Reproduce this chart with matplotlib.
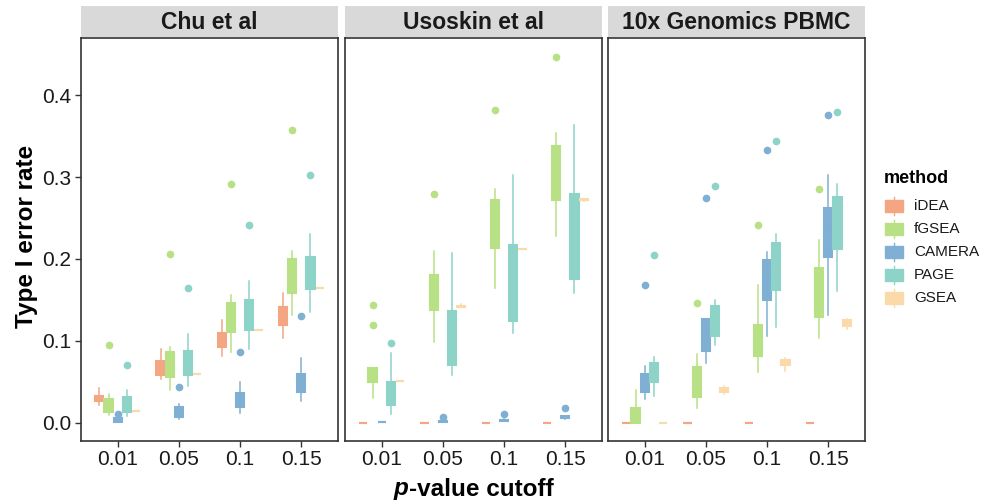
import matplotlib
matplotlib.use("Agg")
import matplotlib.pyplot as plt
from matplotlib.patches import Rectangle
from matplotlib.lines import Line2D

plt.rcParams['font.family'] = ['Liberation Sans', 'DejaVu Sans']

cutoffs = ['0.01', '0.05', '0.1', '0.15']
methods = ['iDEA', 'fGSEA', 'CAMERA', 'PAGE', 'GSEA']
colors = ['#F4A582', '#B8E186', '#7FB0D4', '#8DD3C7', '#F9DAA8']
datasets = ['Chu et al', 'Usoskin et al', '10x Genomics PBMC']

# each entry: (whisker low, q1, median, q3, whisker high) per cutoff
chu_idea = [[.021, .026, .029, .033, .042], [.053, .058, .066, .075, .090],
            [.081, .092, .100, .110, .126], [.104, .119, .128, .141, .158]]
chu_idea_out = [[], [], [], []]
chu_fgsea = [[.009, .013, .020, .029, .035], [.040, .056, .072, .086, .093],
             [.086, .111, .128, .146, .156], [.132, .159, .180, .200, .210]]
chu_fgsea_out = [[.095], [.206], [.292], [.358]]
chu_camera = [[.001, .001, .003, .006, .006], [.004, .007, .012, .019, .023],
              [.012, .019, .027, .036, .050], [.027, .037, .048, .060, .079]]
chu_camera_out = [[.011], [.044], [.086], [.130]]
chu_page = [[.008, .013, .022, .031, .040], [.045, .058, .073, .088, .108],
            [.090, .113, .130, .150, .173], [.135, .163, .182, .202, .231]]
chu_page_out = [[.070], [.165], [.241], [.302]]
chu_gsea = [[.014] * 5, [.060] * 5, [.113] * 5, [.165] * 5]
chu_gsea_out = [[], [], [], []]

uso_idea = [[0.0] * 5, [0.0] * 5, [0.0] * 5, [0.0] * 5]
uso_idea_out = [[], [], [], []]
uso_fgsea = [[.030, .050, .058, .067, .067], [.099, .138, .160, .181, .210],
             [.164, .213, .245, .272, .286], [.228, .272, .305, .338, .354]]
uso_fgsea_out = [[.119, .144], [.279], [.382], [.447]]
uso_camera = [[.0005] * 5, [.001, .001, .0015, .002, .002],
              [.002, .002, .003, .0035, .004], [.004, .006, .007, .008, .008]]
uso_camera_out = [[], [.0065], [.011], [.018]]
uso_page = [[.011, .022, .035, .050, .0855], [.058, .071, .100, .137, .207],
            [.109, .124, .170, .217, .303], [.158, .176, .230, .280, .364]]
uso_page_out = [[.097], [], [], []]
uso_gsea = [[.0515] * 5, [.141, .141, .142, .143, .145],
            [.2124] * 5, [.271, .272, .272, .273, .273]]
uso_gsea_out = [[], [], [], []]

pbmc_idea = [[0.0] * 5, [0.0] * 5, [0.0] * 5, [0.0] * 5]
pbmc_idea_out = [[], [], [], []]
pbmc_fgsea = [[0.0, 0.0, .005, .018, .040], [.018, .031, .050, .0685, .084],
              [.062, .082, .100, .119, .168], [.103, .129, .160, .189, .223]]
pbmc_fgsea_out = [[], [.146], [.2415], [.285]]
pbmc_camera = [[.029, .037, .050, .060, .069], [.073, .087, .110, .127, .127],
               [.106, .150, .180, .199, .208], [.131, .203, .240, .262, .303]]
pbmc_camera_out = [[.168], [.274], [.333], [.3765]]
pbmc_page = [[.033, .050, .062, .0726, .080], [.095, .106, .125, .142, .1495],
             [.117, .1625, .190, .2197, .230], [.161, .2124, .245, .276, .292]]
pbmc_page_out = [[.2046], [.289], [.3437], [.380]]
pbmc_gsea = [[0.0] * 5, [.035, .038, .040, .042, .045],
             [.0636, .070, .073, .076, .0786], [.114, .118, .121, .125, .127]]
pbmc_gsea_out = [[], [], [], []]

panel_stats = [
    [chu_idea, chu_fgsea, chu_camera, chu_page, chu_gsea],
    [uso_idea, uso_fgsea, uso_camera, uso_page, uso_gsea],
    [pbmc_idea, pbmc_fgsea, pbmc_camera, pbmc_page, pbmc_gsea],
]
panel_out = [
    [chu_idea_out, chu_fgsea_out, chu_camera_out, chu_page_out, chu_gsea_out],
    [uso_idea_out, uso_fgsea_out, uso_camera_out, uso_page_out, uso_gsea_out],
    [pbmc_idea_out, pbmc_fgsea_out, pbmc_camera_out, pbmc_page_out, pbmc_gsea_out],
]

W, H = 982, 503
fig = plt.figure(figsize=(W / 100, H / 100), dpi=100)

def fx(px):
    return px / W

def fy(py):
    return 1 - py / H

panel_x = [(81, 338), (345, 602), (608, 865)]
top, bottom = 38, 441
strip_top = 6
edge = '#333333'
txt = '#1a1a1a'

for p, (x0, x1) in enumerate(panel_x):
    ax = fig.add_axes([fx(x0), fy(bottom), fx(x1 - x0), (bottom - top) / H])
    for m in range(5):
        stats = []
        positions = []
        for c in range(4):
            lo, q1, med, q3, hi = panel_stats[p][m][c]
            stats.append(dict(whislo=lo, q1=q1, med=med, q3=q3, whishi=hi,
                              fliers=panel_out[p][m][c]))
            positions.append(c + 1 + (m - 2) * 0.15)
        col = colors[m]
        ax.bxp(stats, positions=positions, widths=0.135, patch_artist=True,
               showcaps=False, manage_ticks=False,
               boxprops=dict(facecolor=col, edgecolor=col, linewidth=1.5),
               whiskerprops=dict(color=col, linewidth=1.1),
               medianprops=dict(color=col, linewidth=1.5),
               flierprops=dict(marker='o', markerfacecolor=col,
                               markeredgecolor=col, markersize=4.5))
    ax.set_xlim(0.4, 4.6)
    ax.set_ylim(-0.0224, 0.470)
    ax.set_xticks(range(1, 5))
    ax.set_xticklabels(cutoffs, fontsize=15, color=txt)
    ax.tick_params(axis='x', length=4, width=1, color=edge, pad=2.5)
    if p == 0:
        ax.set_yticks([0, 0.1, 0.2, 0.3, 0.4])
        ax.set_yticklabels(['0.0', '0.1', '0.2', '0.3', '0.4'], fontsize=15, color=txt)
        ax.tick_params(axis='y', length=4, width=1, color=edge, pad=3)
    else:
        ax.set_yticks([])
    for s in ax.spines.values():
        s.set_color(edge)
        s.set_linewidth(1.2)
    # strip
    sax = fig.add_axes([fx(x0), fy(top - 1), fx(x1 - x0), (top - 1 - strip_top) / H])
    sax.set_facecolor('#D9D9D9')
    sax.set_xticks([])
    sax.set_yticks([])
    for s in sax.spines.values():
        s.set_visible(False)
    sax.text(0.5, 0.47, datasets[p], ha='center', va='center', fontsize=16.5,
             fontweight='bold', color=txt, transform=sax.transAxes)

# axis titles
fig.text(fx(27), fy(236), 'Type I error rate', rotation=90, ha='center', va='center',
         fontsize=17.5, fontweight='bold', color='black')

fig.canvas.draw()
r = fig.canvas.get_renderer()
t1 = fig.text(0, fy(489), 'p', fontsize=17.5, fontweight='bold', fontstyle='italic',
              va='center', color='black')
t2 = fig.text(0, fy(489), '-value cutoff', fontsize=17.5, fontweight='bold',
              va='center', color='black')
w1 = t1.get_window_extent(r).width
w2 = t2.get_window_extent(r).width
cx = 473
start = cx - (w1 + w2) / 2
t1.set_x(fx(start))
t2.set_x(fx(start + w1 + 1))

# legend
fig.text(fx(884), fy(178), 'method', fontsize=13, fontweight='bold', va='center',
         color='black')
for i, (m, col) in enumerate(zip(methods, colors)):
    yc = 206 + 23 * i
    fig.add_artist(Line2D([fx(894), fx(894)], [fy(yc - 9), fy(yc + 9)], color=col,
                          linewidth=1.0, transform=fig.transFigure))
    fig.add_artist(Rectangle((fx(885), fy(yc + 6)), fx(18), 12 / H, facecolor=col,
                             edgecolor=col, linewidth=1.0, transform=fig.transFigure))
    fig.text(fx(914), fy(yc), m, fontsize=11, va='center', color=txt)

fig.savefig('out.png', dpi=100)
